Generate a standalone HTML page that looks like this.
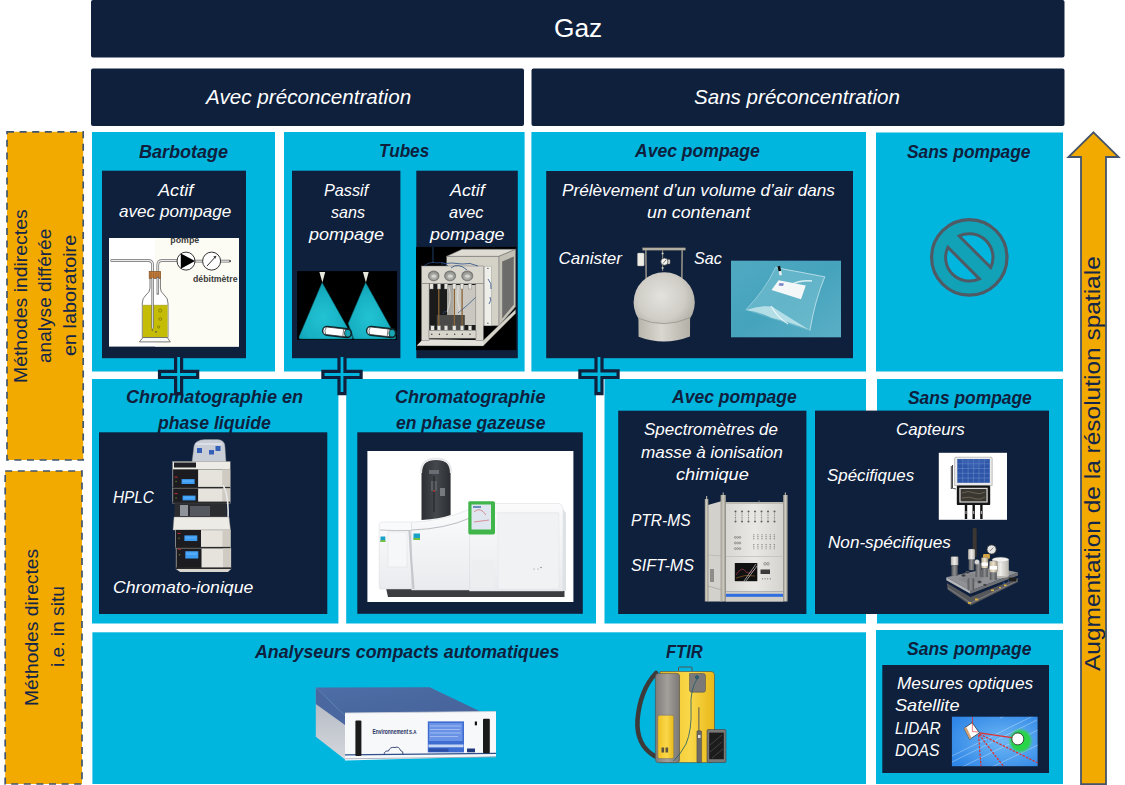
<!DOCTYPE html>
<html><head><meta charset="utf-8"><style>
html,body{margin:0;padding:0;background:#fff;width:1125px;height:785px;overflow:hidden;position:relative;font-family:"Liberation Sans",sans-serif}
</style></head><body>
<svg style="position:absolute;left:0;top:0" width="1125" height="785" viewBox="0 0 1125 785"><rect x="91" y="0" width="973.50" height="57.50" rx="2" fill="#0f203d"/>
<rect x="91" y="68.5" width="433.00" height="57.50" rx="2" fill="#0f203d"/>
<rect x="531.5" y="68.5" width="533.00" height="57.50" rx="2" fill="#0f203d"/>
<rect x="92" y="132" width="183.00" height="239.50" fill="#00b6df"/>
<rect x="284" y="132" width="240.60" height="239.50" fill="#00b6df"/>
<rect x="531.4" y="132" width="334.60" height="239.50" fill="#00b6df"/>
<rect x="876" y="132.5" width="187.00" height="239.00" fill="#00b6df"/>
<rect x="102" y="170.7" width="144.00" height="187.50" fill="#0f203d"/>
<rect x="292" y="170.7" width="108.40" height="187.50" fill="#0f203d"/>
<rect x="416.3" y="170.7" width="101.50" height="187.50" fill="#0f203d"/>
<rect x="546.2" y="171" width="306.80" height="187.20" fill="#0f203d"/>
<rect x="92" y="379" width="246.40" height="244.50" fill="#00b6df"/>
<rect x="346.2" y="379" width="249.80" height="244.50" fill="#00b6df"/>
<rect x="604.5" y="379" width="261.50" height="244.50" fill="#00b6df"/>
<rect x="877" y="379" width="186.00" height="244.50" fill="#00b6df"/>
<rect x="99" y="432.3" width="228.30" height="181.70" fill="#0f203d"/>
<rect x="357.3" y="432.3" width="225.50" height="181.50" fill="#0f203d"/>
<rect x="618.2" y="410.7" width="188.20" height="203.30" fill="#0f203d"/>
<rect x="815" y="410.6" width="234.00" height="203.40" fill="#0f203d"/>
<rect x="92.4" y="632.3" width="773.60" height="151.70" fill="#00b6df"/>
<rect x="876" y="630" width="187.00" height="154.00" fill="#00b6df"/>
<rect x="882.3" y="665" width="166.70" height="108.00" fill="#0f203d"/><rect x="7" y="131.8" width="76.2" height="328.2" fill="#f2a900" stroke="#405670" stroke-width="1.7" stroke-dasharray="7 5.6"/><rect x="5.2" y="471" width="76.8" height="313" fill="#f2a900" stroke="#405670" stroke-width="1.7" stroke-dasharray="7 5.6"/><path d="M175.60 355.5 V371.40 H159.50 V377.50 H175.60 V393.70 H181.60 V377.50 H197.70 V371.40 H181.60 V355.5 Z" fill="#00b6df" stroke="#0f203d" stroke-width="3.2" stroke-linejoin="miter"/><path d="M339.00 355.5 V371.40 H322.90 V377.50 H339.00 V393.70 H345.00 V377.50 H361.10 V371.40 H345.00 V355.5 Z" fill="#00b6df" stroke="#0f203d" stroke-width="3.2" stroke-linejoin="miter"/><path d="M596.00 355.5 V370.90 H579.90 V377.50 H596.00 V393.70 H602.00 V377.50 H618.10 V370.90 H602.00 V355.5 Z" fill="#00b6df" stroke="#0f203d" stroke-width="3.2" stroke-linejoin="miter"/><circle cx="969.3" cy="257.4" r="37.7" fill="#12a2b8" stroke="#4f5a65" stroke-width="3.2"/><path d="M959.18 235.97 L990.73 267.52 A23.7 23.7 0 0 0 959.18 235.97 Z" fill="#00b6df" stroke="#4f5a65" stroke-width="3"/><path d="M947.87 247.28 L979.42 278.83 A23.7 23.7 0 0 1 947.87 247.28 Z" fill="#00b6df" stroke="#4f5a65" stroke-width="3"/><path d="M1093.5 132.3 L1118.6 157 H1106 V784.2 H1081 V157 H1068.4 Z" fill="#f2a900" stroke="#44546a" stroke-width="1.8" stroke-linejoin="miter"/>
<rect x="109" y="238" width="130" height="108.6" fill="#ffffff"/>
<rect x="155" y="238" width="84" height="108.6" fill="#fdfcf4"/>
<g fill="none" stroke-linecap="round" stroke-linejoin="round">
 <path d="M111.6 260.6 H148.6 Q152.6 260.6 152.6 265 V328.5" stroke="#6d6d6d" stroke-width="2.6"/>
 <path d="M111.6 260.6 H148.6 Q152.6 260.6 152.6 265 V328.5" stroke="#ececec" stroke-width="1.2"/>
 <path d="M157.8 293.5 V265 Q157.8 260.6 162 260.6 H177" stroke="#6d6d6d" stroke-width="2.6"/>
 <path d="M157.8 293.5 V265 Q157.8 260.6 162 260.6 H177" stroke="#ececec" stroke-width="1.2"/>
 <path d="M195 261.1 H202.6 M220.6 261.1 H229.5" stroke="#6d6d6d" stroke-width="2.6"/>
 <path d="M195 261.1 H202.6 M220.6 261.1 H229.5" stroke="#ececec" stroke-width="1.2"/>
</g>
<circle cx="230" cy="261.1" r="0.9" fill="#333"/>
<circle cx="186" cy="261.1" r="9" fill="#fff" stroke="#333" stroke-width="1"/>
<path d="M180.8 253.4 L180.8 268.8 L195 261.1 Z" fill="#000"/>
<circle cx="211.6" cy="261.1" r="9" fill="#fff" stroke="#333" stroke-width="1"/>
<path d="M207 266 L215.6 256.6" stroke="#333" stroke-width="1"/>
<path d="M216.4 255.7 L213.2 256.6 L215.4 258.8 Z" fill="#333"/>
<text x="184.8" y="243.3" font-family="Liberation Sans" font-weight="bold" font-size="9.2" fill="#3a3a3a" text-anchor="middle" textLength="29" lengthAdjust="spacingAndGlyphs">pompe</text>
<text x="193" y="281.9" font-family="Liberation Sans" font-weight="bold" font-size="8.6" fill="#3a3a3a" textLength="44.5" lengthAdjust="spacingAndGlyphs">débitmètre</text>
<path d="M150 278 V288 Q150 292 146 295 Q142.3 298 142.3 303 V337.5 H168 V303 Q168 298 164.2 295 Q160.4 292 160.4 288 V278 Z" fill="#ffffff" stroke="#6a6a6a" stroke-width="0.9"/>
<path d="M142.8 305.3 H167.5 V337.2 H142.8 Z" fill="#c4bc05"/>
<path d="M142.8 305.3 H167.5" stroke="#9a9400" stroke-width="0.6"/>
<rect x="149.2" y="271.6" width="11.4" height="6.6" fill="#c07a3a" stroke="#7a4a1a" stroke-width="0.7"/>
<path d="M151 272.5 V277.5 M153.5 272.5 V277.5 M156 272.5 V277.5 M158.5 272.5 V277.5" stroke="#8a5220" stroke-width="0.5"/>
<path d="M152.6 278 V328.5" stroke="#6d6d6d" stroke-width="2.4"/>
<path d="M152.6 278 V328.5" stroke="#dcdcdc" stroke-width="1"/>
<path d="M157.8 278 V293.5" stroke="#6d6d6d" stroke-width="2.4" stroke-linecap="round"/>
<path d="M157.8 278 V293.5" stroke="#ececec" stroke-width="1"/>
<g fill="none" stroke="#7a7600" stroke-width="0.7">
 <circle cx="160.2" cy="310.5" r="1.6"/><circle cx="160.3" cy="319" r="1.4"/><circle cx="158.6" cy="327" r="1.1"/>
</g>
<circle cx="152.3" cy="330" r="0.8" fill="#555"/><circle cx="156" cy="331.8" r="0.9" fill="#555"/>
<path d="M143 337.5 L139.4 341.9 H170.3 L167.3 337.5 Z" fill="#fafafa" stroke="#6a6a6a" stroke-width="0.9"/>

<defs>
 <radialGradient id="coneg" cx="0.45" cy="0.62" r="0.6">
  <stop offset="0" stop-color="#22c3d4"/><stop offset="0.7" stop-color="#16b0c2"/><stop offset="1" stop-color="#0f9fb2"/>
 </radialGradient>
</defs>
<rect x="297.1" y="271.1" width="99.9" height="68.8" fill="#000"/>
<path d="M322.1 282.6 L299.2 336.4 Q298.2 339 301.2 339 L350.6 339 Q353.4 339 352.4 336.4 Z" fill="url(#coneg)" stroke="#0b5c66" stroke-width="0.5"/>
<path d="M365.6 282.6 L348.2 323.5 L353.8 339 L393.8 339 Q396.6 339 395.6 336.4 Z" fill="url(#coneg)" stroke="#0b5c66" stroke-width="0.5"/>
<path d="M319.4 271.9 H325.2 L322.4 282.4 Z" fill="#e9e7dc"/>
<path d="M362.9 271.9 H368.7 L365.9 282.4 Z" fill="#e9e7dc"/>
<g transform="translate(323.0,330.4) rotate(6.47)"><rect x="-1" y="-5.1" width="30.380979546167882" height="10.2" rx="5.1" fill="#0a2a30"/><rect x="0" y="-3.8" width="24.380979546167882" height="7.6" rx="3.8" fill="#ffffff" stroke="#222" stroke-width="0.7"/><ellipse cx="24.880979546167882" cy="0" rx="3.2" ry="3.8" fill="#18a6b5" stroke="#111" stroke-width="0.7"/><path d="M20.380979546167882 -3.8 V3.8" stroke="#333" stroke-width="0.6"/><path d="M3 -3.3 Q0.8 0 3 3.3" stroke="#333" stroke-width="0.6" fill="none"/></g>
<g transform="translate(367.0,330.4) rotate(6.38)"><rect x="-1" y="-5.1" width="30.77846417027847" height="10.2" rx="5.1" fill="#0a2a30"/><rect x="0" y="-3.8" width="24.77846417027847" height="7.6" rx="3.8" fill="#ffffff" stroke="#222" stroke-width="0.7"/><ellipse cx="25.27846417027847" cy="0" rx="3.2" ry="3.8" fill="#18a6b5" stroke="#111" stroke-width="0.7"/><path d="M20.77846417027847 -3.8 V3.8" stroke="#333" stroke-width="0.6"/><path d="M3 -3.3 Q0.8 0 3 3.3" stroke="#333" stroke-width="0.6" fill="none"/></g>

<rect x="416.1" y="246.9" width="100.2" height="103.2" fill="#000"/>
<path d="M446.7 256.3 L462 249.3 H515.6 L499 256.3 Z" fill="#dedcd3" stroke="#777" stroke-width="0.5"/>
<rect x="446.7" y="256.3" width="52.3" height="69.5" fill="#d4d1c7" stroke="#777" stroke-width="0.5"/>
<path d="M499 256.3 L515.6 249.3 V306.8 L499 325.8 Z" fill="#c2bfb5" stroke="#777" stroke-width="0.5"/>
<path d="M502.2 261.5 L513.8 256.5 V304.5 L502.2 318.5 Z" fill="#6c6c6a"/>
<rect x="484.6" y="266.2" width="6.6" height="59.4" fill="#efefea" stroke="#999" stroke-width="0.4"/>
<circle cx="487.9" cy="268.4" r="0.7" fill="#555"/><circle cx="487.9" cy="323.3" r="0.7" fill="#555"/>
<rect x="429" y="283.6" width="47" height="47" fill="#1b1b1b"/>
<rect x="447" y="285" width="29" height="40" fill="#c9c7c0"/>
<rect x="447" y="285" width="6" height="40" fill="#a9a7a0"/>
<rect x="436.8" y="315" width="28" height="15.5" fill="#4a4a48"/>
<g stroke="#8a6535" stroke-width="1.3"><path d="M438.8 287 V326"/><path d="M454.4 287 V326"/><path d="M462.1 287 V326"/></g>
<g stroke="#f0f0f0" stroke-width="0.6" fill="none"><path d="M449 287 Q452 300 447 312"/><path d="M458 287 Q456 300 460 313"/></g><g stroke="#2c4f86" stroke-width="0.7" fill="none"><path d="M476 297 Q468 305 458 313"/><path d="M446 312 Q444 310 443 314"/></g>
<path d="M423 339.5 L483.4 340.3 L515.6 309.5 V313.5 L483.4 345.8 L417 345.6 Z" fill="#d6d3c9" stroke="#777" stroke-width="0.4"/>
<path d="M417 345.6 L423 339.5 L483.4 340.3 L483.4 345.8 Z" fill="#e3e1da"/>
<rect x="421.5" y="266" width="62" height="17.8" fill="#dad7ce" stroke="#777" stroke-width="0.5"/>
<rect x="421.5" y="283.6" width="7.6" height="57" fill="#d8d5cc" stroke="#777" stroke-width="0.5"/>
<rect x="475.8" y="283.6" width="7.6" height="57" fill="#d8d5cc" stroke="#777" stroke-width="0.5"/>
<rect x="429" y="330.2" width="47" height="8" fill="#d8d5cc" stroke="#777" stroke-width="0.5"/>
<g fill="#333"><circle cx="431.8" cy="334.3" r="0.7"/><circle cx="439.4" cy="334.3" r="0.7"/><circle cx="447" cy="334.3" r="0.7"/><circle cx="454.7" cy="334.3" r="0.7"/><circle cx="462.3" cy="334.3" r="0.7"/><circle cx="470" cy="334.3" r="0.7"/></g>
<g fill="#e6e4dc" stroke="#777" stroke-width="0.4">
 <rect x="429.8" y="283.8" width="3.4" height="5.2"/><rect x="437.3" y="283.8" width="3.4" height="5.2"/><rect x="444.3" y="283.8" width="3.4" height="5.2"/><rect x="452.6" y="283.8" width="3.4" height="5.2"/><rect x="460.3" y="283.8" width="3.4" height="5.2"/><rect x="468.3" y="283.8" width="3.4" height="5.2"/>
 <rect x="430.8" y="325.8" width="3.4" height="4.6"/><rect x="437.3" y="325.8" width="3.4" height="4.6"/><rect x="444.3" y="325.8" width="3.4" height="4.6"/><rect x="452.6" y="325.8" width="3.4" height="4.6"/><rect x="460.3" y="325.8" width="3.4" height="4.6"/><rect x="468.3" y="325.8" width="3.4" height="4.6"/>
</g>
<defs><radialGradient id="gaug" cx="0.5" cy="0.55" r="0.55"><stop offset="0" stop-color="#d9d9d6"/><stop offset="0.5" stop-color="#a9a9a5"/><stop offset="1" stop-color="#7b7b78"/></radialGradient></defs>
<g fill="url(#gaug)" stroke="#555" stroke-width="0.5"><ellipse cx="433.7" cy="275.9" rx="5.4" ry="5"/><ellipse cx="450.1" cy="275.9" rx="5.6" ry="5"/><ellipse cx="467.3" cy="275.9" rx="5.6" ry="5"/></g>
<g fill="#d4d4d0" stroke="#777" stroke-width="0.3"><ellipse cx="433.9" cy="276.2" rx="2.8" ry="2"/><ellipse cx="450.3" cy="276.2" rx="2.9" ry="2"/><ellipse cx="467.5" cy="276.2" rx="2.9" ry="2"/></g>
<g stroke="#2c4f86" stroke-width="0.8" fill="none"><path d="M433 247 V263"/><path d="M424 266 Q430 261 437 263 Q444 261 448 266"/><path d="M441 264 Q452 262 462 264 Q470 262 478 266"/><path d="M451 268 Q458 262 467 270"/><path d="M488 279 Q492 283 491 289"/><path d="M490 297 Q492 300 489 304"/></g>

<defs>
 <radialGradient id="sph" cx="0.45" cy="0.4" r="0.65"><stop offset="0" stop-color="#e4e2dd"/><stop offset="0.6" stop-color="#cfcdc6"/><stop offset="1" stop-color="#aaa79d"/></radialGradient>
 <linearGradient id="skirt" x1="0" x2="1" y1="0" y2="0"><stop offset="0" stop-color="#b9b6ac"/><stop offset="0.45" stop-color="#d9d7d0"/><stop offset="1" stop-color="#b3b0a6"/></linearGradient>
 <linearGradient id="bagbg" x1="0" y1="0" x2="1" y2="1"><stop offset="0" stop-color="#4fa9c1"/><stop offset="0.5" stop-color="#46a3bc"/><stop offset="1" stop-color="#5aafc6"/></linearGradient>
</defs>
<rect x="642.5" y="247.8" width="43" height="2.4" fill="#b2aea2" stroke="#6f6b60" stroke-width="0.4"/>
<path d="M645.8 250 L646.2 281 M682.2 250 L681.8 281" stroke="#a8a498" stroke-width="1.4"/>
<path d="M645.8 250 L646.2 281 M682.2 250 L681.8 281" stroke="#6f6b60" stroke-width="0.4" fill="none"/>
<rect x="637.4" y="253" width="6.8" height="13" rx="1" fill="#eeede6" stroke="#888" stroke-width="0.4"/>
<path d="M662.6 250 V271" stroke="#8e8a80" stroke-width="1"/>
<circle cx="662.6" cy="253.5" r="1.1" fill="#cbc8bf"/><circle cx="662.6" cy="268" r="1.1" fill="#cbc8bf"/>
<rect x="667.3" y="259.4" width="2.8" height="4.6" rx="1" fill="#d9d6cc" stroke="#666" stroke-width="0.3"/>
<circle cx="664.4" cy="261.7" r="3.6" fill="#f4f4f0" stroke="#3a3a3a" stroke-width="0.7"/>
<path d="M663 263.5 L666 260" stroke="#222" stroke-width="0.6"/>
<ellipse cx="664.2" cy="302.4" rx="30.6" ry="30.2" fill="url(#sph)"/>
<path d="M638.4 318.2 Q664 329.5 690.1 317.6 L690 336.6 Q664 346.5 638.6 336.8 Z" fill="url(#skirt)"/>
<path d="M638.4 318.2 Q664 329.5 690.1 317.6" stroke="#8a877d" stroke-width="0.6" fill="none"/>
<rect x="731" y="260.7" width="110" height="76.6" fill="url(#bagbg)"/>
<path d="M775.5 267.6 Q800 272 824.8 276.8 Q815 300 809.9 330.7 Q780 322 745.6 310 Q765 290 775.5 267.6 Z" fill="#7cc3d3" fill-opacity="0.55"/>
<path d="M746 310 Q760 305 772 306.5 Q790 318 809.5 330 Q790 322 772 318 Q760 312 746 310 Z" fill="#c8e8ee" fill-opacity="0.8"/>
<path d="M790 285 Q800 280 812 281" stroke="#d9f0f4" stroke-width="1.5" fill="none"/>
<path d="M775.5 267.6 Q800 272 824.8 276.8 Q815 300 809.9 330.7" stroke="#e6f6fa" stroke-opacity="0.7" stroke-width="0.9" fill="none"/>
<path d="M745.6 310 Q765 290 775.5 267.6" stroke="#e6f6fa" stroke-opacity="0.5" stroke-width="0.8" fill="none"/>
<path d="M771 306 Q778 318 788 324" stroke="#ffffff" stroke-opacity="0.7" stroke-width="1.2" fill="none"/>
<path d="M771.5 290 L778.6 280.3 L805.8 285.6 L801 299.3 Z" fill="#f4f7f8"/>
<path d="M779.5 283 L784 283.5 L783 286 L778.5 285.5 Z" fill="#7a86c8"/>
<path d="M777.5 266.5 L780 265.8 L781.2 270.8 L778.7 271.4 Z" fill="#111"/>
<path d="M778.7 271.4 L781.2 270.8 L782 275 L779.5 275.6 Z" fill="#e8eef0"/>

<path d="M194 446 Q195 440 205 439.5 H218 Q225 440 225 447 L226 462 H192 Z" fill="#c9ced6" stroke="#8a9098" stroke-width="0.4"/>
<rect x="197" y="448" width="5" height="5" fill="#3460b8"/><rect x="209" y="450" width="5" height="4.5" fill="#3460b8"/><rect x="215.5" y="446" width="5" height="5" fill="#3460b8"/>
<path d="M196 444 H222" stroke="#eef2f6" stroke-width="1"/>
<rect x="172.6" y="461.5" width="57.6" height="8" fill="#ecebe6" stroke="#8d8a84" stroke-width="0.4"/>
<rect x="174" y="462.5" width="22" height="5" fill="#202024"/>
<rect x="172.6" y="469.5" width="57.599999999999994" height="19.0" fill="#e6e3dc" stroke="#8d8a84" stroke-width="0.4"/><rect x="222.2" y="469.5" width="8" height="19.0" fill="#cfcbc2"/><rect x="173.1" y="469.5" width="25" height="18.5" fill="#1c1c20"/><rect x="181.6" y="479.1" width="13.0" height="4.899999999999977" fill="#3d9cf0"/><rect x="182.6" y="480.3" width="11.0" height="1.7149999999999919" fill="#63b6ff" fill-opacity="0.6"/><circle cx="176.1" cy="481.55" r="0.8" fill="#5a7a30"/><rect x="174.6" y="476.6" width="3" height="1" fill="#c03030"/><rect x="172.6" y="486.9" width="57.599999999999994" height="1.6" fill="#2a2a2a"/>
<rect x="172.6" y="488.5" width="57.599999999999994" height="14.699999999999989" fill="#e6e3dc" stroke="#8d8a84" stroke-width="0.4"/><rect x="222.2" y="488.5" width="8" height="14.699999999999989" fill="#cfcbc2"/><rect x="173.1" y="488.5" width="25" height="14.199999999999989" fill="#1c1c20"/><rect x="182.6" y="495.6" width="12.900000000000006" height="4.7999999999999545" fill="#3d9cf0"/><rect x="183.6" y="496.8" width="10.900000000000006" height="1.679999999999984" fill="#63b6ff" fill-opacity="0.6"/><circle cx="176.1" cy="498.0" r="0.8" fill="#5a7a30"/><rect x="174.6" y="493.1" width="3" height="1" fill="#c03030"/><rect x="172.6" y="501.59999999999997" width="57.599999999999994" height="1.6" fill="#2a2a2a"/>
<rect x="174.5" y="503.2" width="52" height="14" fill="#2b2c30"/>
<rect x="180" y="505" width="8" height="11" fill="#8f939a"/>
<rect x="190" y="506" width="20" height="10" fill="#55585e"/>
<path d="M223 485 Q229 495 228 520" stroke="#e8e8e8" stroke-width="1.6" fill="none"/>
<path d="M174 517 H229 L230.5 530 H173 Z" fill="#ecebe6" stroke="#8d8a84" stroke-width="0.4"/>
<rect x="175.5" y="530" width="55.0" height="18.5" fill="#e6e3dc" stroke="#8d8a84" stroke-width="0.4"/><rect x="222.5" y="530" width="8" height="18.5" fill="#cfcbc2"/><rect x="176.0" y="530" width="25" height="18.0" fill="#1c1c20"/><rect x="184.4" y="535.4" width="12.900000000000006" height="5.600000000000023" fill="#3d9cf0"/><rect x="185.4" y="536.6" width="10.900000000000006" height="1.9600000000000077" fill="#63b6ff" fill-opacity="0.6"/><circle cx="179.0" cy="538.2" r="0.8" fill="#5a7a30"/><rect x="177.5" y="532.9" width="3" height="1" fill="#c03030"/><rect x="175.5" y="546.9" width="55.0" height="1.6" fill="#2a2a2a"/>
<rect x="176" y="548.5" width="55" height="20.5" fill="#e6e3dc" stroke="#8d8a84" stroke-width="0.4"/><rect x="223" y="548.5" width="8" height="20.5" fill="#cfcbc2"/><rect x="176.5" y="548.5" width="25" height="20.0" fill="#1c1c20"/><rect x="185.3" y="551.2" width="13.0" height="7.2999999999999545" fill="#3d9cf0"/><rect x="186.3" y="552.4000000000001" width="11.0" height="2.5549999999999837" fill="#63b6ff" fill-opacity="0.6"/><circle cx="179.5" cy="554.85" r="0.8" fill="#5a7a30"/><rect x="178" y="548.7" width="3" height="1" fill="#c03030"/><rect x="176" y="567.4" width="55" height="1.6" fill="#2a2a2a"/>
<path d="M176 569 L180 572 H228 L231 569 Z" fill="#d8d5ce"/>

<defs>
 <linearGradient id="gcw" x1="0" x2="0" y1="0" y2="1"><stop offset="0" stop-color="#fbfbfc"/><stop offset="1" stop-color="#e9ebee"/></linearGradient>
 <linearGradient id="gct" x1="0" x2="1" y1="0" y2="0"><stop offset="0" stop-color="#2c2f33"/><stop offset="0.5" stop-color="#45494e"/><stop offset="1" stop-color="#2a2d31"/></linearGradient>
</defs>
<rect x="367.4" y="451" width="206" height="151" fill="#ffffff"/>
<path d="M386 588 H564.5 V597 H388 Z" fill="#3b3d40"/>
<path d="M379.2 524 Q380 522 384 522 H411.5 V589 H380.5 Q379.2 589 379.2 587 Z" fill="url(#gcw)" stroke="#d4d8dc" stroke-width="0.5"/>
<rect x="388" y="532" width="19" height="35" fill="#f6f7f8" stroke="#d9dde0" stroke-width="0.5"/>
<path d="M411.5 522 Q440 522 470 509 H472 V590 H411.5 Z" fill="url(#gcw)" stroke="#d4d8dc" stroke-width="0.5"/>
<path d="M411.5 530 Q445 529 470 518" stroke="#b8bcc0" stroke-width="1" fill="none"/>
<path d="M380 530 Q395 531 411 530.5" stroke="#b8bcc0" stroke-width="0.9" fill="none"/>
<path d="M409.5 531 Q411 560 413.5 589" stroke="#c4c8cc" stroke-width="2.2" fill="none"/>
<path d="M421.5 520 V472 Q421.5 460 436 460 Q450.6 460 450.6 472 V515 Q440 519 421.5 520 Z" fill="url(#gct)"/>
<path d="M421 473 Q421 458.5 436 458.5 Q451 458.5 451 473" stroke="#e7e9eb" stroke-width="2.2" fill="none"/>
<rect x="429" y="470" width="10" height="4" fill="#6a6e74"/><rect x="431" y="481" width="6" height="10" fill="#5b5f65"/><rect x="440" y="488" width="5" height="8" fill="#777b80"/>
<path d="M434 476 V512" stroke="#202225" stroke-width="1"/>
<circle cx="434" cy="491" r="1" fill="#b83030"/>
<path d="M469.5 503.5 H559 Q563 505 563 509 V591 H469.5 Z" fill="url(#gcw)" stroke="#d4d8dc" stroke-width="0.5"/>
<path d="M494 513 H559" stroke="#dde0e3" stroke-width="0.6"/>
<rect x="498" y="513" width="61" height="76" fill="#f1f2f4" stroke="#dfe2e5" stroke-width="0.5"/>
<path d="M563 509 L566 513 V591 L563 591 Z" fill="#dfe2e5"/>
<rect x="472" y="560" width="22" height="27" fill="#eceef0"/>
<g fill="#8a8d90"><circle cx="534" cy="569" r="0.6"/><circle cx="538" cy="569" r="0.6"/><circle cx="541" cy="567.5" r="0.8"/></g>
<path d="M468.3 503 Q468 501.3 470 501.3 H493 Q495 501.3 495 503 V532.5 Q495 534.6 493 534.6 H470 Q468.3 534.6 468.3 532.5 Z" fill="#3fb54a"/>
<rect x="471.5" y="504.5" width="19.5" height="25" fill="#dfe6f0"/>
<path d="M474 512 Q480 506 486 515 M474 522 L489 520" stroke="#cc5555" stroke-width="0.6" fill="none"/>
<rect x="473" y="506" width="8" height="2" fill="#6c8cc0"/>
<rect x="380.5" y="536.5" width="4.8" height="5.5" fill="#17a0c8"/><rect x="380.5" y="540" width="4.8" height="2" fill="#74c043"/>
<rect x="413.5" y="533.5" width="6.5" height="6" fill="#17a0c8"/><rect x="413.5" y="538" width="6.5" height="2" fill="#74c043"/>

<defs>
 <linearGradient id="spf" x1="0" x2="1" y1="0" y2="0"><stop offset="0" stop-color="#d9d7d2"/><stop offset="0.5" stop-color="#e9e8e5"/><stop offset="1" stop-color="#d5d3ce"/></linearGradient>
 <linearGradient id="spp" x1="0" x2="1" y1="0" y2="0"><stop offset="0" stop-color="#9d9a90"/><stop offset="0.5" stop-color="#cfccc2"/><stop offset="1" stop-color="#8f8c83"/></linearGradient>
</defs>
<path d="M708 505 L722 501 V601.5 H708 Z" fill="#d3d1cb"/>
<path d="M708 555 L722 556" stroke="#b9b7b0" stroke-width="0.8"/>
<path d="M708 586 L722 590" stroke="#a9a7a0" stroke-width="0.8"/>
<rect x="710" y="569" width="4" height="13" fill="#8e8d8a"/>
<rect x="725.5" y="503" width="58" height="88.7" fill="url(#spf)"/>
<path d="M725.5 556.5 H783.5" stroke="#c2c0ba" stroke-width="0.8"/>
<rect x="725.5" y="591.7" width="58" height="10" fill="#cfcdc6"/>
<rect x="725.5" y="593.8" width="58" height="3" fill="#2f6ee0"/>
<rect x="725.5" y="502" width="58" height="2" fill="#bdbab2"/>
<rect x="734.8" y="563" width="22.5" height="18.2" fill="#111"/>
<path d="M736 575 Q742 565 746 572 Q750 575 755 569" stroke="#b8405a" stroke-width="0.6" fill="none"/>
<path d="M736 578 Q745 574 755 576" stroke="#c07a30" stroke-width="0.5" fill="none"/>
<path d="M744 581 L756 564 M746 581 L757 566" stroke="#e8e8e8" stroke-width="0.6"/>
<rect x="760.5" y="569.5" width="9.5" height="4.5" fill="#3a3a3a"/>
<circle cx="765" cy="563.8" r="1.3" fill="none" stroke="#555" stroke-width="0.5"/><circle cx="768" cy="563.8" r="1.3" fill="none" stroke="#555" stroke-width="0.5"/>
<circle cx="762.50" cy="578.80" r="0.6" fill="#666"/><circle cx="765.10" cy="578.80" r="0.6" fill="#666"/><circle cx="767.70" cy="578.80" r="0.6" fill="#666"/><circle cx="770.30" cy="578.80" r="0.6" fill="#666"/>
<circle cx="735.50" cy="511.60" r="1.0" fill="#5a5a5a"/><circle cx="742.00" cy="511.60" r="1.0" fill="#5a5a5a"/><circle cx="748.50" cy="511.60" r="1.0" fill="#5a5a5a"/><circle cx="755.00" cy="511.60" r="1.0" fill="#5a5a5a"/><circle cx="761.50" cy="511.60" r="1.0" fill="#5a5a5a"/><circle cx="768.00" cy="511.60" r="1.0" fill="#5a5a5a"/><circle cx="774.50" cy="511.60" r="1.0" fill="#5a5a5a"/>
<circle cx="735.50" cy="521.60" r="1.0" fill="#5a5a5a"/><circle cx="742.00" cy="521.60" r="1.0" fill="#5a5a5a"/><circle cx="748.50" cy="521.60" r="1.0" fill="#5a5a5a"/><circle cx="755.00" cy="521.60" r="1.0" fill="#5a5a5a"/><circle cx="761.50" cy="521.60" r="1.0" fill="#5a5a5a"/><circle cx="768.00" cy="521.60" r="1.0" fill="#5a5a5a"/><circle cx="774.50" cy="521.60" r="1.0" fill="#5a5a5a"/>
<path d="M735.5 513.5 V519.8" stroke="#8a8a8a" stroke-width="1.1" stroke-dasharray="1 0.7"/><path d="M742.0 513.5 V519.8" stroke="#8a8a8a" stroke-width="1.1" stroke-dasharray="1 0.7"/><path d="M748.5 513.5 V519.8" stroke="#8a8a8a" stroke-width="1.1" stroke-dasharray="1 0.7"/><path d="M755.0 513.5 V519.8" stroke="#8a8a8a" stroke-width="1.1" stroke-dasharray="1 0.7"/><path d="M761.5 513.5 V519.8" stroke="#8a8a8a" stroke-width="1.1" stroke-dasharray="1 0.7"/><path d="M768.0 513.5 V519.8" stroke="#8a8a8a" stroke-width="1.1" stroke-dasharray="1 0.7"/><path d="M774.5 513.5 V519.8" stroke="#8a8a8a" stroke-width="1.1" stroke-dasharray="1 0.7"/>
<circle cx="735.3" cy="537.4" r="0.95" fill="none" stroke="#666" stroke-width="0.55"/><circle cx="735.3" cy="543.0" r="0.95" fill="none" stroke="#666" stroke-width="0.55"/><circle cx="735.3" cy="548.6" r="0.95" fill="none" stroke="#666" stroke-width="0.55"/><circle cx="737.6" cy="537.4" r="0.95" fill="none" stroke="#666" stroke-width="0.55"/><circle cx="737.6" cy="543.0" r="0.95" fill="none" stroke="#666" stroke-width="0.55"/><circle cx="737.6" cy="548.6" r="0.95" fill="none" stroke="#666" stroke-width="0.55"/><circle cx="739.9" cy="537.4" r="0.95" fill="none" stroke="#666" stroke-width="0.55"/><circle cx="739.9" cy="543.0" r="0.95" fill="none" stroke="#666" stroke-width="0.55"/><circle cx="739.9" cy="548.6" r="0.95" fill="none" stroke="#666" stroke-width="0.55"/>
<path d="M753.8 534.3 V540 M753.8 544 V549.6" stroke="#6a6a6a" stroke-width="0.9" stroke-dasharray="1 0.8"/><path d="M757.9 534.3 V540 M757.9 544 V549.6" stroke="#6a6a6a" stroke-width="0.9" stroke-dasharray="1 0.8"/><path d="M762.0 534.3 V540 M762.0 544 V549.6" stroke="#6a6a6a" stroke-width="0.9" stroke-dasharray="1 0.8"/><path d="M766.1 534.3 V540 M766.1 544 V549.6" stroke="#6a6a6a" stroke-width="0.9" stroke-dasharray="1 0.8"/><path d="M770.2 534.3 V540 M770.2 544 V549.6" stroke="#6a6a6a" stroke-width="0.9" stroke-dasharray="1 0.8"/><path d="M774.3 534.3 V540 M774.3 544 V549.6" stroke="#6a6a6a" stroke-width="0.9" stroke-dasharray="1 0.8"/>
<rect x="704.8" y="499" width="3.6" height="102.5" fill="url(#spp)"/>
<rect x="720.6" y="495" width="5.3" height="106.5" fill="url(#spp)"/>
<rect x="783.2" y="495" width="4.5" height="106.5" fill="url(#spp)"/>
<path d="M706.6 499 V496 M723.2 495 V492.6 M785.4 495 V492.6" stroke="#aaa79e" stroke-width="1.2"/>
<path d="M759 503 V500.5" stroke="#aaa79e" stroke-width="0.8"/>

<rect x="938.8" y="452.8" width="68.2" height="67" fill="#ffffff"/>
<path d="M952.5 465 V488 M951.3 466 V489" stroke="#333" stroke-width="0.9"/>
<path d="M951.5 488 L956 489" stroke="#333" stroke-width="0.8"/>
<path d="M955.8 457.2 H991 Q992.2 457.2 992.2 458.5 V485.5 H954.6 V458.5 Q954.6 457.2 955.8 457.2 Z" fill="#e9e9e9" stroke="#8a8a8a" stroke-width="0.5"/>
<rect x="957.3" y="459" width="32.5" height="23.8" fill="#2d55a8"/>
<path d="M962.72 459 V482.8" stroke="#8fa8d8" stroke-width="0.35"/><path d="M968.13 459 V482.8" stroke="#8fa8d8" stroke-width="0.35"/><path d="M973.55 459 V482.8" stroke="#8fa8d8" stroke-width="0.35"/><path d="M978.97 459 V482.8" stroke="#8fa8d8" stroke-width="0.35"/><path d="M984.38 459 V482.8" stroke="#8fa8d8" stroke-width="0.35"/><path d="M957.3 463.76 H989.8" stroke="#8fa8d8" stroke-width="0.35"/><path d="M957.3 468.52 H989.8" stroke="#8fa8d8" stroke-width="0.35"/><path d="M957.3 473.28 H989.8" stroke="#8fa8d8" stroke-width="0.35"/><path d="M957.3 478.04 H989.8" stroke="#8fa8d8" stroke-width="0.35"/>
<path d="M957.3 459 L989.8 459 L975 470 Z" fill="#4d74c0" fill-opacity="0.35"/>
<rect x="956.8" y="485.5" width="33.4" height="19.6" rx="1.2" fill="#161616"/>
<rect x="959.3" y="487.8" width="28.4" height="14.8" fill="#d8d8d8"/>
<rect x="960.6" y="489" width="25.8" height="12.4" fill="#3a3630"/>
<path d="M962 493 Q968 490 975 493 Q980 495 985 492 M962 498 Q970 496 976 499 Q981 500 985 497" stroke="#8a8070" stroke-width="0.6" fill="none"/>
<g fill="#111"><rect x="964.8" y="505" width="2.4" height="14"/><rect x="972.5" y="505" width="2.4" height="14"/><rect x="980.2" y="505" width="2.4" height="14"/></g>
<g fill="#bbb"><rect x="965.5" y="511" width="1" height="3"/><rect x="973.2" y="511" width="1" height="3"/><rect x="980.9" y="511" width="1" height="3"/></g>

<defs>
 <linearGradient id="cylw" x1="0" x2="1"><stop offset="0" stop-color="#bdbab4"/><stop offset="0.5" stop-color="#eeece8"/><stop offset="1" stop-color="#b5b2ab"/></linearGradient>
 <linearGradient id="cylg" x1="0" x2="1"><stop offset="0" stop-color="#55575a"/><stop offset="0.5" stop-color="#8c8e90"/><stop offset="1" stop-color="#4e5053"/></linearGradient>
 <linearGradient id="cylc" x1="0" x2="1"><stop offset="0" stop-color="#b8ad94"/><stop offset="0.5" stop-color="#ece4d0"/><stop offset="1" stop-color="#a89e86"/></linearGradient>
</defs>
<path d="M946.8 583 L970.4 597 L1018 578 V582 L970.6 605.5 L947.5 589.5 Z" fill="#55575b"/>
<path d="M948 588 L970.6 603 L1017 581" stroke="#8a8c90" stroke-width="0.8" fill="none"/>
<g fill="#d8b040"><rect x="975" y="598.5" width="3.2" height="2"/><rect x="991" y="589.5" width="3" height="1.6"/><rect x="968" y="602" width="3" height="1.8"/><rect x="1004" y="584.5" width="2.6" height="1.5"/><rect x="999" y="587" width="2" height="1.3"/></g>
<g fill="#3a6ad0"><rect x="1003" y="582.5" width="1.6" height="1"/><rect x="1008" y="580.5" width="1.6" height="1"/></g>
<path d="M946.3 577.3 L993.9 567.3 L1018 572.5 L970.4 590.8 Z" fill="#8f9195"/>
<path d="M946.3 577.3 L970.4 590.8 V593.8 L946.3 580.3 Z" fill="#b4b6ba"/>
<path d="M970.4 590.8 L1018 572.5 V575.5 L970.4 593.8 Z" fill="#6f7175"/>
<path d="M958 579 L972 573 L985 577 L970 585 Z" fill="#85878b"/>
<g fill="#3a3c40" stroke="#aaa" stroke-width="0.3"><ellipse cx="963.5" cy="575.5" rx="2.3" ry="1.4"/><ellipse cx="979.5" cy="582" rx="2.3" ry="1.4"/><ellipse cx="985" cy="585" rx="2.1" ry="1.3"/><ellipse cx="967.5" cy="572.5" rx="2" ry="1.2"/></g>
<rect x="1008.8" y="577.6" width="7.4" height="3.8" fill="#1e1e1e"/>
<path d="M972.7 529 Q974.7 526.3 976.7 529 V557 H972.7 Z" fill="#3b3632"/>
<rect x="950.9" y="556.4" width="7.4" height="9.2" rx="1" fill="url(#cylw)" stroke="#444" stroke-width="0.3"/>
<rect x="951.4" y="565.6" width="6.4" height="10.3" fill="url(#cylg)"/>
<rect x="968.1" y="549" width="6.9" height="10.8" rx="1.2" fill="url(#cylw)" stroke="#444" stroke-width="0.3"/>
<rect x="968.7" y="559.8" width="5.7" height="10.4" fill="url(#cylg)"/>
<rect x="967.6" y="578" width="6.6" height="12.5" rx="1.5" fill="url(#cylg)"/>
<rect x="975.5" y="563" width="6" height="14" fill="url(#cylg)"/>
<circle cx="977" cy="562" r="2.6" fill="#d8d8d8" stroke="#555" stroke-width="0.3"/>
<ellipse cx="1000.5" cy="576" rx="8.3" ry="2.2" fill="#b9b7b2"/>
<rect x="992.2" y="559.6" width="16.6" height="16.4" fill="url(#cylw)"/>
<ellipse cx="1000.5" cy="559.6" rx="8.3" ry="2.4" fill="#f4f3f0" stroke="#999" stroke-width="0.3"/>
<circle cx="991.6" cy="549.5" r="4.6" fill="#e6e6e4" stroke="#3a3a3a" stroke-width="0.8"/>
<path d="M989.8 551.2 L993.4 547.6" stroke="#333" stroke-width="0.5"/>
<rect x="983" y="554.1" width="6.9" height="4.6" rx="1.2" fill="#d4a444"/>
<rect x="981.3" y="557.6" width="6.9" height="11" rx="1" fill="url(#cylc)" stroke="#555" stroke-width="0.3"/>
<rect x="981.6" y="562.5" width="6.3" height="3.4" fill="#ffffff"/>
<rect x="981.8" y="568.6" width="5.9" height="8.5" fill="url(#cylg)"/>
<rect x="989.3" y="561" width="8" height="11.5" rx="1" fill="url(#cylc)" stroke="#555" stroke-width="0.3"/>
<rect x="989.6" y="566" width="7.4" height="3.6" fill="#ffffff"/>
<rect x="989.8" y="572.5" width="7" height="7.5" fill="url(#cylg)"/>

<defs>
 <linearGradient id="anatop" x1="0" x2="1" y1="0" y2="1"><stop offset="0" stop-color="#4e6da6"/><stop offset="1" stop-color="#46639a"/></linearGradient>
 <linearGradient id="anaside" x1="0" x2="0" y1="0" y2="1"><stop offset="0" stop-color="#aeb4bf"/><stop offset="1" stop-color="#d4d7dc"/></linearGradient>
</defs>
<path d="M315.8 687.6 L429.8 687.2 L482.4 712.4 L345 715.4 Z" fill="url(#anatop)"/>
<path d="M315.8 687.6 L345 715.4 V759.6 L315.8 736.8 Z" fill="url(#anaside)"/>
<path d="M315.8 687.6 L345 715.4 V725 L315.8 704 Z" fill="#4a67a0"/>
<path d="M345 713 L496 711.5 V756.5 L345 760.6 Z" fill="#f7f8fa"/>
<path d="M345 713 L496 711.5" stroke="#d0d4da" stroke-width="0.8"/>
<path d="M345 754.8 L496 753.3" stroke="#2f4f8a" stroke-width="1.3"/>
<path d="M345 758.8 L496 757" stroke="#9aa3b3" stroke-width="0.8"/>
<rect x="355.4" y="720.5" width="6" height="35.5" rx="1" fill="#1a1a1a"/>
<rect x="483" y="718.8" width="6.8" height="34.5" rx="1" fill="#1a1a1a"/>
<rect x="427.8" y="721.4" width="36.2" height="31" fill="#3e6bd0"/>
<rect x="429" y="723" width="33.5" height="18" fill="#6a92e6"/>
<g stroke="#dbe6ff" stroke-width="0.5"><path d="M430 726 H461 M430 729.5 H460 M430 733 H461 M430 736.5 H458"/></g>
<rect x="428.5" y="744.5" width="35" height="2.8" fill="#c8d6f5"/>
<rect x="428.5" y="748.5" width="20" height="3.3" fill="#2b4ea8"/>
<rect x="467" y="748.5" width="8" height="3.8" fill="#1f3a7a"/>
<rect x="474.8" y="721.5" width="2.2" height="3.8" fill="#111"/>
<text x="372.6" y="733.6" font-family="Liberation Sans" font-weight="bold" font-size="7.2" fill="#1e2e5e" textLength="35.5" lengthAdjust="spacingAndGlyphs">Environnement</text>
<text x="409" y="733.6" font-family="Liberation Sans" font-weight="bold" font-size="4.5" fill="#1e2e5e">S.A</text>
<path d="M384 754.5 Q384.5 750.5 388.5 751 Q390 746.5 395 747.5 Q399 746 400.5 750.5 Q403.5 751 403 754.5" fill="none" stroke="#2a3a6a" stroke-width="0.9"/>

<defs>
 <linearGradient id="yel" x1="0" x2="1"><stop offset="0" stop-color="#f0c020"/><stop offset="0.55" stop-color="#fad84a"/><stop offset="1" stop-color="#e8b818"/></linearGradient>
 <linearGradient id="gry" x1="0" x2="1"><stop offset="0" stop-color="#7e7b78"/><stop offset="0.5" stop-color="#a3a09c"/><stop offset="1" stop-color="#7a7774"/></linearGradient>
</defs>
<path d="M656 673 Q640 690 637.5 720 Q636 745 654.5 756" fill="none" stroke="#3d3b3a" stroke-width="4.6" stroke-linecap="round"/>
<path d="M678.5 671 V667.6 Q678.5 667 679.5 667 H691 Q692 667 692 667.6 V671" fill="none" stroke="#555" stroke-width="1"/>
<path d="M660 671.5 H711 Q714.5 671.5 714.5 675 V759.5 Q714.5 762.6 711 762.6 H660 Z" fill="url(#yel)" stroke="#4a4a4a" stroke-width="0.6"/>
<path d="M658.5 673.4 H677 Q679.5 673.4 679.5 676 V759.8 Q679.5 762.6 677 762.6 H658.5 Q655.4 762.6 655.4 759.5 V676.5 Q655.4 673.4 658.5 673.4 Z" fill="url(#gry)" stroke="#4a4a4a" stroke-width="0.6"/>
<rect x="657.8" y="715.2" width="16" height="43.4" rx="1.8" fill="url(#yel)" stroke="#6a6a6a" stroke-width="0.5"/>
<g fill="#5a5040"><rect x="661.5" y="747.5" width="2.6" height="5"/><rect x="665.5" y="747.5" width="2.6" height="5"/></g>
<path d="M689.5 673.5 H703.5 Q705.5 673.5 705.5 676 V690 Q705.5 692.2 703.5 692.2 H691.5 Q689.5 692.2 689.5 690 Z" fill="#7c7a78" stroke="#4a4a4a" stroke-width="0.5"/>
<circle cx="697" cy="677.2" r="1.6" fill="#2a6a80" stroke="#1a3a4a" stroke-width="0.5"/>
<path d="M697 679 Q690 690 691 708 Q692 730 686 744 Q680 755 673.5 761" fill="none" stroke="#1f5a6a" stroke-width="0.8"/>
<path d="M698.9 707.3 V731" stroke="#555" stroke-width="1"/>
<rect x="696.9" y="730.8" width="4.7" height="31.8" rx="0.8" fill="#6c6a68" stroke="#333" stroke-width="0.4"/>
<rect x="698" y="735" width="2.5" height="3" fill="#ddd"/>
<rect x="707" y="729.5" width="19" height="33" rx="1.2" fill="#7a7876" stroke="#333" stroke-width="0.5"/>
<rect x="709.2" y="732.6" width="14.6" height="26.6" fill="#1c1c1c"/>
<path d="M710 745 L722 735 M710 752 L722 742 M712 758 L723 749" stroke="#4a4a4a" stroke-width="0.8"/>

<defs>
 <radialGradient id="skyg" cx="0.6" cy="0.5" r="0.7"><stop offset="0" stop-color="#6fb8f5"/><stop offset="1" stop-color="#2f86e6"/></radialGradient>
 <radialGradient id="glow" cx="0.5" cy="0.5" r="0.5"><stop offset="0" stop-color="#22dd44"/><stop offset="0.7" stop-color="#2ad24a"/><stop offset="1" stop-color="#3bd25a" stop-opacity="0"/></radialGradient>
 <clipPath id="satclip"><rect x="951.9" y="716.7" width="85.7" height="49.5"/></clipPath>
</defs>
<rect x="951.9" y="716.7" width="85.7" height="49.5" fill="url(#skyg)"/>
<g clip-path="url(#satclip)">
 <g stroke="#d8ecff" stroke-width="0.5" stroke-opacity="0.8">
  <path d="M952 756 L1037 714"/><path d="M952 762 L1037 720"/><path d="M960 768 L1040 729"/><path d="M990 768 L1040 744"/><path d="M1000 718 L1037 700"/>
 </g>
 <ellipse cx="1020.5" cy="740.8" rx="12.5" ry="13" fill="url(#glow)"/>
 <path d="M972.4 716.7 V730" stroke="#e03030" stroke-width="0.9"/>
 <path d="M979.4 732.9 L1011.8 737.6" stroke="#e03030" stroke-width="1.3"/>
 <g stroke="#e03030" stroke-width="1.25" stroke-dasharray="2.4 1.3" fill="none">
  <path d="M978.6 735 L981 767"/><path d="M979 734.5 L1004 767"/><path d="M979.5 734 L1040 764"/>
 </g>
</g>
<path d="M964.1 728.2 L972.2 722.7 L979.4 732.9 L969.6 739.3 Z" fill="#ffffff" stroke="#2a2a2a" stroke-width="0.7"/>
<path d="M964.1 728.2 L966.2 727 L971.5 737.8 L969.6 739.3 Z" fill="#d2a070"/>
<path d="M972.4 722.5 V731.5 L978 732" stroke="#e03030" stroke-width="0.6" fill="none"/>
<circle cx="1017.8" cy="738.9" r="6" fill="#ffffff" stroke="#222" stroke-width="0.8"/>
</svg>
<div style="position:absolute;left:554.2px;top:15.9px;font-size:25px;line-height:25px;font-style:normal;font-weight:normal;color:#ffffff;letter-spacing:0px;white-space:pre;transform-origin:0 0;transform:scaleX(1.0523)">Gaz</div>
<div style="position:absolute;left:205.5px;top:86.7px;font-size:20.7px;line-height:20.7px;font-style:italic;font-weight:normal;color:#ffffff;letter-spacing:0px;white-space:pre;transform-origin:0 0;transform:scaleX(0.9985)">Avec préconcentration</div>
<div style="position:absolute;left:694.4px;top:86.7px;font-size:20.7px;line-height:20.7px;font-style:italic;font-weight:normal;color:#ffffff;letter-spacing:0px;white-space:pre;transform-origin:0 0;transform:scaleX(0.9946)">Sans préconcentration</div>
<div style="position:absolute;left:138.7px;top:142.9px;font-size:18px;line-height:18px;font-style:italic;font-weight:bold;color:#0f203d;letter-spacing:0px;white-space:pre;transform-origin:0 0;transform:scaleX(1.0011)">Barbotage</div>
<div style="position:absolute;left:157.8px;top:181.6px;font-size:17px;line-height:17px;font-style:italic;font-weight:normal;color:#ffffff;letter-spacing:0px;white-space:pre;transform-origin:0 0;transform:scaleX(1.0657)">Actif</div>
<div style="position:absolute;left:118.7px;top:203.3px;font-size:17px;line-height:17px;font-style:italic;font-weight:normal;color:#ffffff;letter-spacing:0px;white-space:pre;transform-origin:0 0;transform:scaleX(1.0063)">avec pompage</div>
<div style="position:absolute;left:379.0px;top:142.1px;font-size:18px;line-height:18px;font-style:italic;font-weight:bold;color:#0f203d;letter-spacing:0px;white-space:pre;transform-origin:0 0;transform:scaleX(0.9529)">Tubes</div>
<div style="position:absolute;left:324.2px;top:181.7px;font-size:17px;line-height:17px;font-style:italic;font-weight:normal;color:#ffffff;letter-spacing:0px;white-space:pre;transform-origin:0 0;transform:scaleX(0.9553)">Passif</div>
<div style="position:absolute;left:330.5px;top:203.8px;font-size:17px;line-height:17px;font-style:italic;font-weight:normal;color:#ffffff;letter-spacing:0px;white-space:pre;transform-origin:0 0;transform:scaleX(0.9444)">sans</div>
<div style="position:absolute;left:309.4px;top:226.3px;font-size:17px;line-height:17px;font-style:italic;font-weight:normal;color:#ffffff;letter-spacing:0px;white-space:pre;transform-origin:0 0;transform:scaleX(1.0600)">pompage</div>
<div style="position:absolute;left:449.6px;top:181.7px;font-size:17px;line-height:17px;font-style:italic;font-weight:normal;color:#ffffff;letter-spacing:0px;white-space:pre;transform-origin:0 0;transform:scaleX(1.0514)">Actif</div>
<div style="position:absolute;left:449.0px;top:203.8px;font-size:17px;line-height:17px;font-style:italic;font-weight:normal;color:#ffffff;letter-spacing:0px;white-space:pre;transform-origin:0 0;transform:scaleX(0.9583)">avec</div>
<div style="position:absolute;left:429.6px;top:226.3px;font-size:17px;line-height:17px;font-style:italic;font-weight:normal;color:#ffffff;letter-spacing:0px;white-space:pre;transform-origin:0 0;transform:scaleX(1.0514)">pompage</div>
<div style="position:absolute;left:635.2px;top:142.4px;font-size:18px;line-height:18px;font-style:italic;font-weight:bold;color:#0f203d;letter-spacing:0px;white-space:pre;transform-origin:0 0;transform:scaleX(0.9750)">Avec pompage</div>
<div style="position:absolute;left:562.2px;top:182.0px;font-size:17px;line-height:17px;font-style:italic;font-weight:normal;color:#ffffff;letter-spacing:0px;white-space:pre;transform-origin:0 0;transform:scaleX(1.0097)">Prélèvement d’un volume d’air dans</div>
<div style="position:absolute;left:647.0px;top:204.4px;font-size:17px;line-height:17px;font-style:italic;font-weight:normal;color:#ffffff;letter-spacing:0px;white-space:pre;transform-origin:0 0;transform:scaleX(1.0490)">un contenant</div>
<div style="position:absolute;left:558.6px;top:249.8px;font-size:17px;line-height:17px;font-style:italic;font-weight:normal;color:#ffffff;letter-spacing:0px;white-space:pre;transform-origin:0 0;transform:scaleX(1.0000)">Canister</div>
<div style="position:absolute;left:693.8px;top:249.8px;font-size:17px;line-height:17px;font-style:italic;font-weight:normal;color:#ffffff;letter-spacing:0px;white-space:pre;transform-origin:0 0;transform:scaleX(0.9500)">Sac</div>
<div style="position:absolute;left:906.9px;top:143.2px;font-size:18px;line-height:18px;font-style:italic;font-weight:bold;color:#0f203d;letter-spacing:0px;white-space:pre;transform-origin:0 0;transform:scaleX(0.9648)">Sans pompage</div>
<div style="position:absolute;left:126.2px;top:388.3px;font-size:18px;line-height:18px;font-style:italic;font-weight:bold;color:#0f203d;letter-spacing:0px;white-space:pre;transform-origin:0 0;transform:scaleX(1.0063)">Chromatographie en</div>
<div style="position:absolute;left:158.2px;top:413.5px;font-size:18px;line-height:18px;font-style:italic;font-weight:bold;color:#0f203d;letter-spacing:0px;white-space:pre;transform-origin:0 0;transform:scaleX(0.9800)">phase liquide</div>
<div style="position:absolute;left:112.6px;top:488.6px;font-size:17px;line-height:17px;font-style:italic;font-weight:normal;color:#ffffff;letter-spacing:0px;white-space:pre;transform-origin:0 0;transform:scaleX(0.9023)">HPLC</div>
<div style="position:absolute;left:112.5px;top:578.8px;font-size:17px;line-height:17px;font-style:italic;font-weight:normal;color:#ffffff;letter-spacing:0px;white-space:pre;transform-origin:0 0;transform:scaleX(1.0381)">Chromato-ionique</div>
<div style="position:absolute;left:395.1px;top:388.3px;font-size:18px;line-height:18px;font-style:italic;font-weight:bold;color:#0f203d;letter-spacing:0px;white-space:pre;transform-origin:0 0;transform:scaleX(1.0027)">Chromatographie</div>
<div style="position:absolute;left:396.0px;top:413.5px;font-size:18px;line-height:18px;font-style:italic;font-weight:bold;color:#0f203d;letter-spacing:0px;white-space:pre;transform-origin:0 0;transform:scaleX(0.9706)">en phase gazeuse</div>
<div style="position:absolute;left:672.2px;top:388.1px;font-size:18px;line-height:18px;font-style:italic;font-weight:bold;color:#0f203d;letter-spacing:0px;white-space:pre;transform-origin:0 0;transform:scaleX(0.9750)">Avec pompage</div>
<div style="position:absolute;left:644.2px;top:421.1px;font-size:17px;line-height:17px;font-style:italic;font-weight:normal;color:#ffffff;letter-spacing:0px;white-space:pre;transform-origin:0 0;transform:scaleX(0.9985)">Spectromètres de</div>
<div style="position:absolute;left:641.1px;top:443.9px;font-size:17px;line-height:17px;font-style:italic;font-weight:normal;color:#ffffff;letter-spacing:0px;white-space:pre;transform-origin:0 0;transform:scaleX(1.0071)">masse à ionisation</div>
<div style="position:absolute;left:676.1px;top:466.4px;font-size:17px;line-height:17px;font-style:italic;font-weight:normal;color:#ffffff;letter-spacing:0px;white-space:pre;transform-origin:0 0;transform:scaleX(1.0697)">chimique</div>
<div style="position:absolute;left:631.1px;top:511.8px;font-size:17px;line-height:17px;font-style:italic;font-weight:normal;color:#ffffff;letter-spacing:0px;white-space:pre;transform-origin:0 0;transform:scaleX(0.9141)">PTR-MS</div>
<div style="position:absolute;left:630.6px;top:556.5px;font-size:17px;line-height:17px;font-style:italic;font-weight:normal;color:#ffffff;letter-spacing:0px;white-space:pre;transform-origin:0 0;transform:scaleX(0.9492)">SIFT-MS</div>
<div style="position:absolute;left:908.0px;top:388.7px;font-size:18px;line-height:18px;font-style:italic;font-weight:bold;color:#0f203d;letter-spacing:0px;white-space:pre;transform-origin:0 0;transform:scaleX(0.9664)">Sans pompage</div>
<div style="position:absolute;left:896.3px;top:421.2px;font-size:17px;line-height:17px;font-style:italic;font-weight:normal;color:#ffffff;letter-spacing:0px;white-space:pre;transform-origin:0 0;transform:scaleX(0.9971)">Capteurs</div>
<div style="position:absolute;left:827.3px;top:466.6px;font-size:17px;line-height:17px;font-style:italic;font-weight:normal;color:#ffffff;letter-spacing:0px;white-space:pre;transform-origin:0 0;transform:scaleX(0.9920)">Spécifiques</div>
<div style="position:absolute;left:827.9px;top:534.0px;font-size:17px;line-height:17px;font-style:italic;font-weight:normal;color:#ffffff;letter-spacing:0px;white-space:pre;transform-origin:0 0;transform:scaleX(1.0074)">Non-spécifiques</div>
<div style="position:absolute;left:255.0px;top:643.0px;font-size:18px;line-height:18px;font-style:italic;font-weight:bold;color:#0f203d;letter-spacing:0px;white-space:pre;transform-origin:0 0;transform:scaleX(0.9879)">Analyseurs compacts automatiques</div>
<div style="position:absolute;left:665.6px;top:643.0px;font-size:18px;line-height:18px;font-style:italic;font-weight:bold;color:#0f203d;letter-spacing:0px;white-space:pre;transform-origin:0 0;transform:scaleX(0.9200)">FTIR</div>
<div style="position:absolute;left:906.6px;top:640.4px;font-size:18px;line-height:18px;font-style:italic;font-weight:bold;color:#0f203d;letter-spacing:0px;white-space:pre;transform-origin:0 0;transform:scaleX(0.9719)">Sans pompage</div>
<div style="position:absolute;left:897.0px;top:675.0px;font-size:17px;line-height:17px;font-style:italic;font-weight:normal;color:#ffffff;letter-spacing:0px;white-space:pre;transform-origin:0 0;transform:scaleX(1.0150)">Mesures optiques</div>
<div style="position:absolute;left:894.6px;top:696.9px;font-size:17px;line-height:17px;font-style:italic;font-weight:normal;color:#ffffff;letter-spacing:0px;white-space:pre;transform-origin:0 0;transform:scaleX(1.0661)">Satellite</div>
<div style="position:absolute;left:895.1px;top:720.0px;font-size:17px;line-height:17px;font-style:italic;font-weight:normal;color:#ffffff;letter-spacing:0px;white-space:pre;transform-origin:0 0;transform:scaleX(0.9143)">LIDAR</div>
<div style="position:absolute;left:895.1px;top:742.0px;font-size:17px;line-height:17px;font-style:italic;font-weight:normal;color:#ffffff;letter-spacing:0px;white-space:pre;transform-origin:0 0;transform:scaleX(0.9234)">DOAS</div>
<div style="position:absolute;left:10.8px;top:382.8px;font-size:19px;line-height:19px;font-style:normal;font-weight:normal;color:#13264a;letter-spacing:0px;white-space:pre;transform-origin:0 0;transform:rotate(-90deg) scaleX(1.0216)">Méthodes indirectes</div>
<div style="position:absolute;left:34.9px;top:362.5px;font-size:19px;line-height:19px;font-style:normal;font-weight:normal;color:#13264a;letter-spacing:0px;white-space:pre;transform-origin:0 0;transform:rotate(-90deg) scaleX(1.0038)">analyse différée</div>
<div style="position:absolute;left:60.3px;top:355.7px;font-size:19px;line-height:19px;font-style:normal;font-weight:normal;color:#13264a;letter-spacing:0px;white-space:pre;transform-origin:0 0;transform:rotate(-90deg) scaleX(1.0430)">en laboratoire</div>
<div style="position:absolute;left:22.1px;top:706.2px;font-size:19px;line-height:19px;font-style:normal;font-weight:normal;color:#13264a;letter-spacing:0px;white-space:pre;transform-origin:0 0;transform:rotate(-90deg) scaleX(1.0118)">Méthodes directes</div>
<div style="position:absolute;left:47.5px;top:666.5px;font-size:19px;line-height:19px;font-style:normal;font-weight:normal;color:#13264a;letter-spacing:0px;white-space:pre;transform-origin:0 0;transform:rotate(-90deg) scaleX(1.0077)">i.e. in situ</div>
<div style="position:absolute;left:1082.0px;top:670.8px;font-size:22.5px;line-height:22.5px;font-style:normal;font-weight:normal;color:#13264a;letter-spacing:0px;white-space:pre;transform-origin:0 0;transform:rotate(-90deg) scaleX(1.0871)">Augmentation de la résolution spatiale</div>

</body></html>
